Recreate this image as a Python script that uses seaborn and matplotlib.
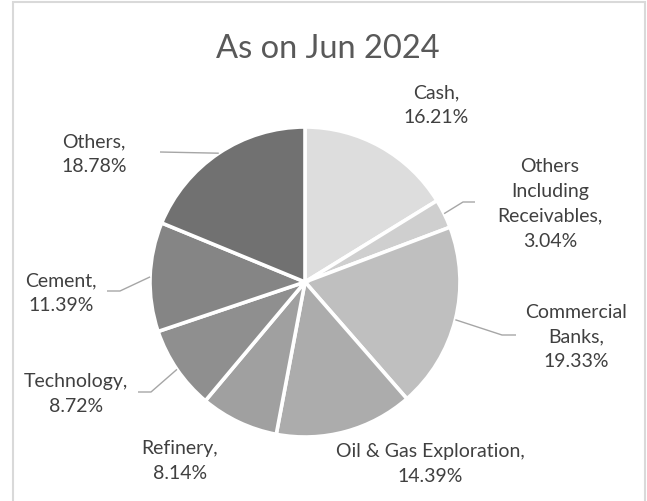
import matplotlib
matplotlib.use("Agg")
import matplotlib.pyplot as plt
from matplotlib.patches import Rectangle
import numpy as np
import seaborn as sns

# Portfolio composition
categories = ["Cash", "Others\nIncluding\nReceivables", "Commercial\nBanks",
              "Oil & Gas Exploration", "Refinery", "Technology", "Cement", "Others"]
shares = [16.21, 3.04, 19.33, 14.39, 8.14, 8.72, 11.39, 18.78]
shade_hex = ["#DDDDDD", "#CFCFCF", "#BFBFBF", "#ACACAC",
             "#A0A0A0", "#8F8F8F", "#858585", "#717171"]
title_text = "As on Jun 2024"

W, H = 647, 502
sns.set_theme(style="white")
plt.rcParams["font.family"] = ["Lato", "DejaVu Sans"]

fig = plt.figure(figsize=(W / 100, H / 100), dpi=100)
ax = fig.add_axes([0, 0, 1, 1])

def up(y):
    """Convert a top-down pixel row to the axis' bottom-up coordinate."""
    return H - y

cx, cy, R = 305, up(283), 155
palette = sns.color_palette(shade_hex)

wedges, _ = ax.pie(shares, colors=palette, startangle=90, counterclock=False,
                   center=(cx, cy), radius=R,
                   wedgeprops=dict(edgecolor="white", linewidth=2.6))

# label layout: block centre (px, top-down) and optional leader path
label_pos = [(436, 105), (550, 204), (576, 337), (430, 464),
             (180, 461), (76, 394), (61, 293), (94, 154)]
leader_path = {
    1: [(463, 203), (475, 203)],
    2: [(502, 336), (516, 336)],
    5: [(151, 393), (138, 393)],
    6: [(120, 292), (107, 292)],
    7: [(160, 153)],
}

cum = np.cumsum([0] + shares)
total = cum[-1]
for i, (name, val) in enumerate(zip(categories, shares)):
    lx, ly = label_pos[i]
    ax.text(lx, up(ly), f"{name},\n{val:.2f}%", ha="center", va="center",
            fontsize=14, color="#404040", linespacing=1.55,
            multialignment="center")
    if i in leader_path:
        mid = np.deg2rad((cum[i] + val / 2) / total * 360)
        ex, ey = cx + R * np.sin(mid), cy + R * np.cos(mid)
        xs = [ex] + [p[0] for p in leader_path[i]]
        ys = [ey] + [up(p[1]) for p in leader_path[i]]
        ax.plot(xs, ys, color="#A6A6A6", lw=1.0, solid_capstyle="butt")

ax.text(328, up(58), title_text, ha="center", va="baseline",
        fontsize=23.5, color="#595959")

# chart frame
ax.add_patch(Rectangle((13, -20), 632, up(2.5) + 20, fill=False,
                       edgecolor="#D9D9D9", lw=1.5))

ax.set_xlim(0, W)
ax.set_ylim(0, H)
ax.set_aspect("equal")
ax.axis("off")
fig.savefig("out.png", dpi=100, facecolor="white")
